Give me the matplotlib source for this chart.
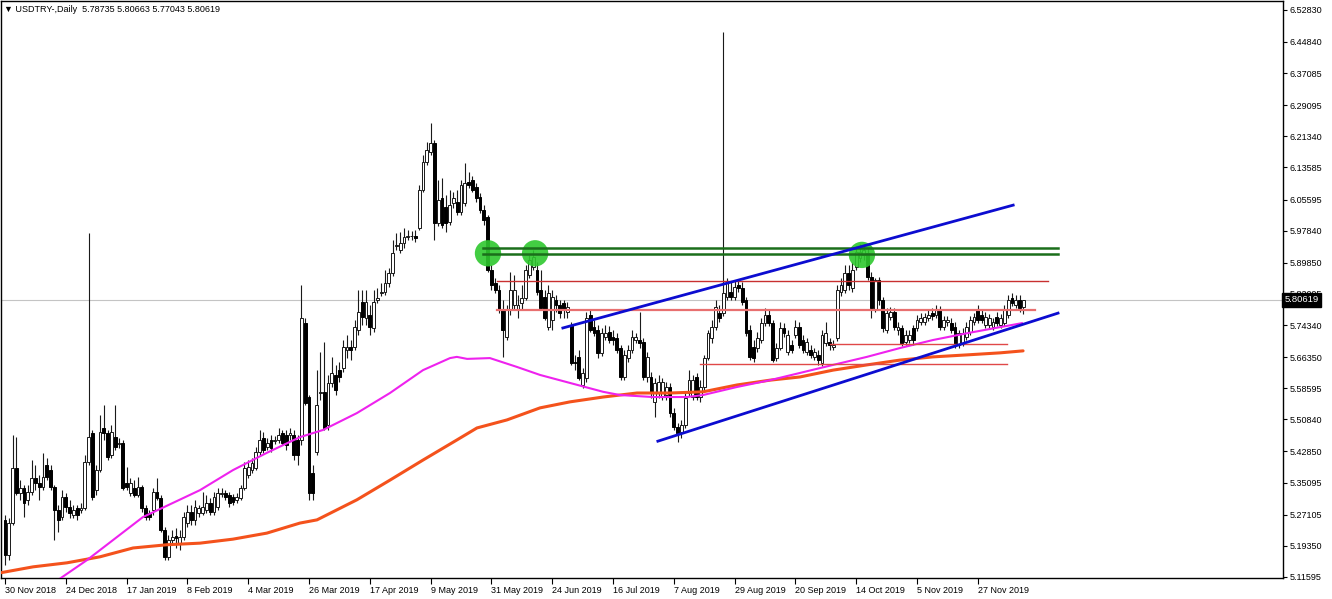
import matplotlib
matplotlib.use("Agg")
import matplotlib.pyplot as plt
import numpy as np

plt.rcParams['font.family'] = ['Liberation Sans', 'DejaVu Sans']

title_text = "\u25bc USDTRY-,Daily  5.78735 5.80663 5.77043 5.80619"
last_close = 5.80619

opens = [
 5.258,5.171,5.250,5.387,5.325,5.337,5.308,5.327,5.362,5.350,
 5.340,5.395,5.382,5.340,5.283,5.265,5.315,5.290,5.270,5.288,
 5.283,5.288,5.402,5.474,5.332,5.382,5.487,5.474,5.420,5.464,
 5.447,5.449,5.350,5.325,5.337,5.320,5.340,5.288,5.275,5.283,
 5.327,5.313,5.233,5.166,5.208,5.218,5.200,5.215,5.250,5.278,
 5.258,5.275,5.275,5.283,5.300,5.278,5.290,5.322,5.325,5.320,
 5.315,5.308,5.313,5.337,5.370,5.382,5.387,5.427,5.462,5.440,
 5.457,5.454,5.457,5.474,5.469,5.469,5.469,5.457,5.457,5.748,
 5.564,5.375,5.427,5.574,5.577,5.494,5.599,5.619,5.631,5.636,
 5.681,5.689,5.689,5.731,5.801,5.761,5.768,5.736,5.806,5.823,
 5.826,5.848,5.873,5.940,5.930,5.948,5.963,5.964,5.965,5.985,
 6.080,6.149,6.174,6.197,5.998,6.060,6.037,6.000,6.047,6.050,
 6.025,6.047,6.100,6.105,6.087,6.062,6.030,6.012,5.880,5.848,
 5.831,5.781,5.714,5.781,5.793,5.781,5.798,5.811,5.868,5.888,
 5.880,5.831,5.813,5.738,5.756,5.806,5.793,5.798,5.776,5.743,
 5.651,5.664,5.594,5.611,5.768,5.738,5.731,5.674,5.714,5.726,
 5.714,5.711,5.686,5.614,5.661,5.681,5.706,5.706,5.701,5.614,
 5.614,5.552,5.574,5.564,5.569,5.589,5.524,5.489,5.477,5.494,
 5.574,5.564,5.614,5.564,5.589,5.661,5.711,5.738,5.773,5.773,
 5.813,5.826,5.813,5.843,5.836,5.806,5.731,5.689,5.686,5.706,
 5.748,5.768,5.748,5.661,5.686,5.736,5.676,5.694,5.718,5.738,
 5.706,5.676,5.681,5.664,5.669,5.649,5.699,5.701,5.689,5.711,
 5.826,5.831,5.873,5.836,5.888,5.910,5.918,5.923,5.863,5.781,
 5.856,5.806,5.731,5.763,5.776,5.731,5.736,5.701,5.706,5.736,
 5.736,5.751,5.751,5.761,5.773,5.768,5.781,5.738,5.751,5.748,
 5.738,5.694,5.699,5.714,5.726,5.751,5.781,5.768,5.743,5.743,
 5.738,5.763,5.743,5.748,5.768,5.811,5.793,5.806,5.78735]
highs = [
 5.270,5.263,5.469,5.464,5.357,5.345,5.345,5.407,5.395,5.370,
 5.425,5.412,5.395,5.345,5.295,5.332,5.325,5.308,5.295,5.295,
 5.300,5.420,5.973,5.482,5.395,5.519,5.544,5.482,5.494,5.544,
 5.462,5.457,5.390,5.362,5.357,5.365,5.345,5.295,5.283,5.337,
 5.362,5.320,5.240,5.220,5.233,5.238,5.233,5.278,5.295,5.295,
 5.308,5.295,5.327,5.320,5.313,5.327,5.337,5.337,5.332,5.327,
 5.322,5.325,5.345,5.402,5.407,5.412,5.440,5.482,5.477,5.462,
 5.469,5.467,5.487,5.482,5.482,5.487,5.482,5.469,5.843,5.761,
 5.569,5.395,5.631,5.676,5.701,5.619,5.664,5.644,5.651,5.706,
 5.718,5.706,5.756,5.831,5.831,5.831,5.793,5.831,5.836,5.848,
 5.880,5.885,5.955,5.973,5.975,5.985,5.980,5.978,5.980,6.092,
 6.167,6.199,6.247,6.204,6.105,6.110,6.067,6.080,6.075,6.080,
 6.105,6.147,6.125,6.115,6.097,6.072,6.042,6.017,5.893,5.860,
 5.843,5.806,5.793,5.875,5.868,5.818,5.843,5.893,5.918,5.930,
 5.900,5.880,5.831,5.843,5.831,5.818,5.806,5.806,5.801,5.751,
 5.669,5.681,5.636,5.776,5.781,5.756,5.743,5.736,5.743,5.741,
 5.731,5.723,5.694,5.681,5.694,5.731,5.723,5.776,5.711,5.676,
 5.626,5.611,5.619,5.611,5.601,5.599,5.537,5.499,5.507,5.577,
 5.631,5.619,5.624,5.606,5.669,5.731,5.756,5.806,5.793,6.473,
 5.860,5.851,5.856,5.856,5.851,5.813,5.743,5.706,5.726,5.761,
 5.786,5.781,5.756,5.699,5.751,5.748,5.731,5.706,5.756,5.751,
 5.718,5.711,5.694,5.686,5.681,5.731,5.751,5.711,5.706,5.843,
 5.860,5.893,5.893,5.900,5.940,5.945,5.945,5.935,5.875,5.860,
 5.863,5.813,5.786,5.788,5.786,5.751,5.743,5.731,5.731,5.743,
 5.768,5.773,5.773,5.781,5.786,5.793,5.791,5.766,5.766,5.761,
 5.751,5.731,5.736,5.751,5.766,5.773,5.793,5.781,5.776,5.771,
 5.761,5.776,5.771,5.793,5.818,5.823,5.818,5.818,5.80663]
lows = [
 5.146,5.158,5.245,5.320,5.308,5.265,5.295,5.320,5.332,5.308,
 5.332,5.357,5.332,5.208,5.228,5.258,5.278,5.263,5.263,5.258,
 5.275,5.283,5.395,5.308,5.320,5.377,5.457,5.407,5.412,5.432,
 5.437,5.332,5.332,5.318,5.315,5.315,5.278,5.258,5.258,5.270,
 5.308,5.228,5.158,5.158,5.196,5.188,5.183,5.208,5.240,5.245,
 5.245,5.265,5.270,5.275,5.270,5.270,5.283,5.315,5.308,5.290,
 5.295,5.300,5.308,5.332,5.362,5.375,5.382,5.420,5.425,5.432,
 5.427,5.447,5.449,5.444,5.432,5.457,5.407,5.395,5.444,5.544,
 5.308,5.308,5.420,5.557,5.482,5.482,5.589,5.569,5.601,5.626,
 5.661,5.656,5.681,5.718,5.743,5.743,5.718,5.726,5.798,5.816,
 5.818,5.838,5.866,5.930,5.923,5.935,5.955,5.955,5.950,5.980,
 6.075,6.142,6.167,5.955,5.990,5.985,5.975,5.993,6.035,6.017,
 6.017,6.040,6.085,6.075,6.050,6.022,5.993,5.875,5.831,5.823,
 5.773,5.664,5.706,5.768,5.781,5.761,5.781,5.806,5.860,5.880,
 5.818,5.781,5.756,5.731,5.731,5.776,5.761,5.761,5.761,5.644,
 5.631,5.606,5.587,5.601,5.726,5.716,5.661,5.666,5.706,5.699,
 5.694,5.674,5.606,5.606,5.651,5.674,5.699,5.686,5.606,5.601,
 5.562,5.514,5.562,5.557,5.557,5.514,5.482,5.452,5.462,5.487,
 5.567,5.557,5.557,5.552,5.582,5.656,5.699,5.731,5.751,5.766,
 5.806,5.806,5.806,5.826,5.793,5.716,5.656,5.651,5.676,5.699,
 5.741,5.741,5.651,5.654,5.681,5.714,5.669,5.674,5.711,5.686,
 5.674,5.669,5.661,5.656,5.644,5.641,5.691,5.681,5.681,5.704,
 5.816,5.823,5.831,5.826,5.880,5.900,5.905,5.856,5.761,5.776,
 5.793,5.726,5.723,5.756,5.731,5.718,5.691,5.694,5.699,5.694,
 5.728,5.743,5.743,5.753,5.756,5.761,5.731,5.731,5.741,5.723,
 5.686,5.686,5.691,5.706,5.718,5.743,5.748,5.748,5.736,5.736,
 5.731,5.741,5.736,5.741,5.761,5.791,5.786,5.776,5.77043]
closes = [
 5.171,5.250,5.387,5.325,5.337,5.300,5.327,5.362,5.350,5.340,
 5.365,5.365,5.340,5.283,5.258,5.315,5.290,5.275,5.283,5.270,
 5.288,5.402,5.464,5.315,5.382,5.477,5.474,5.415,5.477,5.440,
 5.449,5.337,5.340,5.350,5.320,5.340,5.288,5.265,5.265,5.327,
 5.313,5.233,5.166,5.208,5.215,5.213,5.215,5.265,5.278,5.258,
 5.290,5.288,5.290,5.300,5.278,5.315,5.325,5.325,5.315,5.300,
 5.303,5.315,5.337,5.387,5.390,5.400,5.427,5.457,5.432,5.449,
 5.437,5.457,5.469,5.449,5.444,5.474,5.420,5.420,5.761,5.549,
 5.325,5.325,5.544,5.577,5.487,5.599,5.624,5.582,5.614,5.689,
 5.689,5.681,5.738,5.776,5.763,5.801,5.738,5.801,5.811,5.826,
 5.848,5.873,5.923,5.943,5.948,5.963,5.965,5.965,5.960,6.080,
 6.149,6.179,6.197,5.998,6.055,5.993,5.998,6.042,6.060,6.025,
 6.092,6.097,6.092,6.080,6.060,6.030,6.005,5.880,5.843,5.831,
 5.781,5.731,5.781,5.831,5.831,5.793,5.811,5.880,5.905,5.913,
 5.826,5.786,5.761,5.823,5.813,5.793,5.773,5.781,5.788,5.649,
 5.649,5.611,5.624,5.761,5.731,5.723,5.674,5.723,5.723,5.706,
 5.706,5.681,5.614,5.669,5.681,5.714,5.714,5.699,5.614,5.664,
 5.574,5.599,5.601,5.601,5.589,5.524,5.489,5.474,5.494,5.562,
 5.606,5.606,5.564,5.589,5.661,5.723,5.738,5.788,5.761,5.823,
 5.848,5.813,5.838,5.836,5.801,5.723,5.664,5.661,5.711,5.748,
 5.768,5.748,5.656,5.686,5.736,5.723,5.718,5.681,5.738,5.694,
 5.681,5.701,5.669,5.676,5.656,5.718,5.723,5.694,5.694,5.831,
 5.843,5.873,5.843,5.880,5.925,5.925,5.930,5.863,5.786,5.856,
 5.806,5.736,5.773,5.776,5.738,5.738,5.699,5.718,5.718,5.706,
 5.756,5.761,5.763,5.768,5.766,5.781,5.738,5.756,5.756,5.731,
 5.694,5.723,5.723,5.738,5.756,5.763,5.756,5.756,5.763,5.761,
 5.751,5.748,5.761,5.781,5.806,5.798,5.806,5.786,5.80619]

date_labels = ['30 Nov 2018', '24 Dec 2018', '17 Jan 2019', '8 Feb 2019', '4 Mar 2019',
               '26 Mar 2019', '17 Apr 2019', '9 May 2019', '31 May 2019', '24 Jun 2019',
               '16 Jul 2019', '7 Aug 2019', '29 Aug 2019', '20 Sep 2019', '14 Oct 2019',
               '5 Nov 2019', '27 Nov 2019']
bars_per_label = 16

price_ticks = [6.52830, 6.44840, 6.37085, 6.29095, 6.21340, 6.13585, 6.05595, 5.97840,
               5.89850, 5.82095, 5.74340, 5.66350, 5.58595, 5.50840, 5.42850, 5.35095,
               5.27105, 5.19350, 5.11595]

# moving averages (read at bar positions)
ma_pink_bar = [11.8, 13.9, 21.6, 36.3, 51.3, 60, 68.9, 77.6, 83.7, 92.6, 101.3, 110, 117.1,
               118.9, 121.6, 127.6, 134.7, 140.8, 148.7, 157.4, 161.8, 170.5, 179.5, 183.7,
               192.6, 201.3, 209.2, 217.9, 226.8, 235.5, 244.2, 253.2, 261.8, 267.6]
ma_pink_val = [5.095, 5.108, 5.158, 5.265, 5.332, 5.382, 5.425, 5.464, 5.482, 5.524, 5.574,
               5.631, 5.661, 5.664, 5.659, 5.661, 5.639, 5.619, 5.599, 5.577, 5.569, 5.564,
               5.564, 5.569, 5.589, 5.606, 5.624, 5.644, 5.664, 5.686, 5.706, 5.723, 5.738, 5.748]
ma_orange_bar = [-1.3, 7.4, 16.3, 25, 33.7, 42.6, 51.3, 60, 68.9, 77.6, 82.1, 92.6, 101.3, 110,
                 118.9, 124.2, 132.1, 140.8, 148.7, 157.4, 166.3, 175, 183.7, 192.6, 201.3,
                 209.2, 217.9, 226.8, 235.5, 244.2, 253.2, 261.8, 267.9]
ma_orange_val = [5.126, 5.141, 5.151, 5.166, 5.188, 5.196, 5.200, 5.210, 5.225, 5.250, 5.258,
                 5.308, 5.357, 5.407, 5.457, 5.487, 5.507, 5.537, 5.552, 5.564, 5.574, 5.574,
                 5.577, 5.594, 5.606, 5.614, 5.631, 5.644, 5.656, 5.664, 5.669, 5.674, 5.679]

# drawn objects
channel_upper_bar = [146.8, 265.3]
channel_upper_val = [5.736, 6.042]
channel_lower_bar = [171.8, 277.1]
channel_lower_val = [5.454, 5.773]
green_levels = [5.935, 5.920]
green_span = [125.8, 277.1]
green_circle_bar = [127.1, 139.5, 225.5]
green_circle_val = [5.922, 5.922, 5.918]
red_levels = [5.853, 5.781, 5.696, 5.646]
red_start = [129.5, 129.5, 217.0, 182.9]
red_end = [274.5, 271.0, 263.7, 263.7]
red_colors = ['#c83030', '#e87070', '#e04848', '#e04848']
red_widths = [1.0, 1.6, 1.0, 1.0]

O = np.array(opens); H = np.array(highs); L = np.array(lows); C = np.array(closes)
x = np.arange(len(O))

fig = plt.figure(figsize=(13.32, 5.99), dpi=100)
fig.patch.set_facecolor('white')
ax = fig.add_axes([1/1332, 21/599, 1282/1332, 577/599])
ax.set_facecolor('white')
ax.set_xlim(-1.05, 336.3)
ax.set_ylim(5.1132, 6.5505)

ax.axhline(last_close, color='#c4c4c4', lw=0.8, zorder=1)

# candles
ax.vlines(x, L, H, color='#1a1a1a', lw=0.8, zorder=3)
up = C >= O
body_up = np.maximum(C - O, 0.0012)
body_dn = np.maximum(O - C, 0.0012)
ax.bar(x[up], body_up[up], bottom=O[up], width=0.72, color='white', edgecolor='#1a1a1a',
       linewidth=0.7, zorder=4)
ax.bar(x[~up], body_dn[~up], bottom=C[~up], width=0.72, color='black', edgecolor='black',
       linewidth=0.7, zorder=4)

# moving averages
ax.plot(ma_orange_bar, ma_orange_val, color='#f4521c', lw=2.2, zorder=5,
        solid_joinstyle='round', solid_capstyle='round')
ax.plot(ma_pink_bar, ma_pink_val, color='#ee22ee', lw=1.5, zorder=5, solid_joinstyle='round')

# green circles and levels
ax.scatter(green_circle_bar, green_circle_val, s=360, color='#2ec82e', alpha=0.9,
           edgecolors='none', zorder=6)
for lv in green_levels:
    ax.plot(green_span, [lv, lv], color='#1b6e1b', lw=1.8, zorder=7)

# red levels
for lv, s, e, c, w in zip(red_levels, red_start, red_end, red_colors, red_widths):
    ax.plot([s, e], [lv, lv], color=c, lw=w, zorder=6)

# channel
ax.plot(channel_upper_bar, channel_upper_val, color='#0c0cd0', lw=2.0, zorder=7)
ax.plot(channel_lower_bar, channel_lower_val, color='#0c0cd0', lw=2.0, zorder=7)

# axes styling
for sp in ax.spines.values():
    sp.set_color('black'); sp.set_linewidth(1.0)
ax.yaxis.tick_right()
ax.set_yticks(price_ticks)
ax.set_yticklabels([f"{v:.5f}" for v in price_ticks])
ax.tick_params(axis='y', direction='out', length=3, width=0.8, pad=2, labelsize=6.5,
               colors='black')
ax.set_xticks([i * bars_per_label for i in range(len(date_labels))])
ax.set_xticklabels(date_labels, ha='left')
ax.tick_params(axis='x', direction='out', length=4, width=0.8, pad=1.5, labelsize=6.5,
               colors='black')

ax.text(1.0012, last_close, f"{last_close:.5f}", transform=ax.get_yaxis_transform(),
        ha='left', va='center', fontsize=6.8, color='white', zorder=10, clip_on=False,
        bbox=dict(boxstyle='square,pad=0.25', fc='black', ec='black'))

fig.text(4/1332, 1 - 10/599, title_text, fontsize=6.5, va='center', ha='left', color='black')

fig.savefig('out.png', dpi=100, facecolor='white')
